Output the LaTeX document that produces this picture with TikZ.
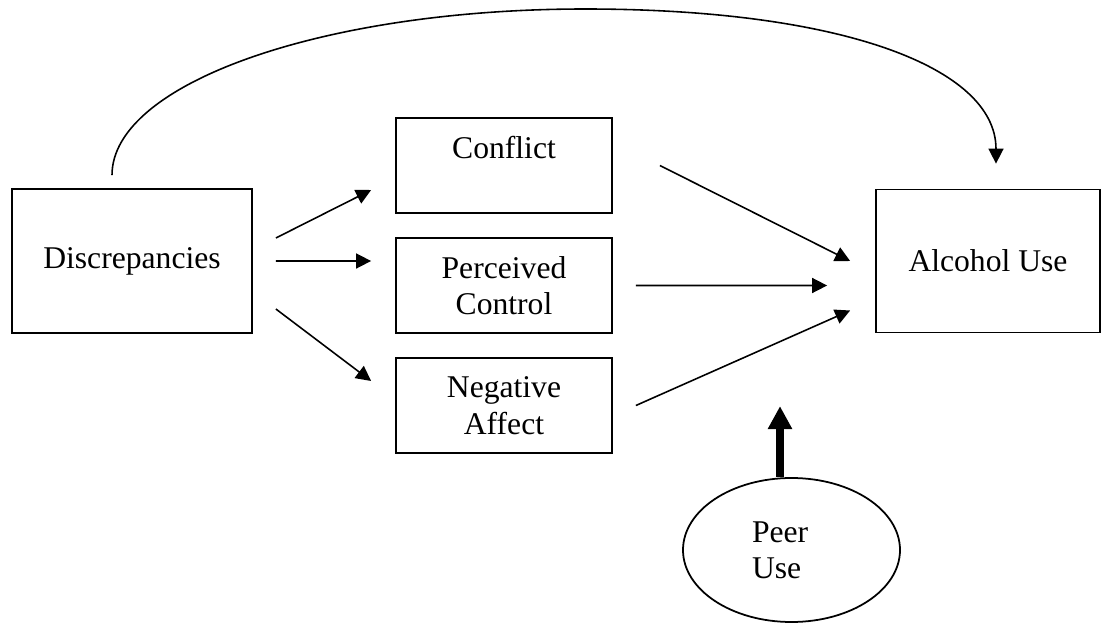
\documentclass[tikz,border=0pt]{standalone}
\usepackage{fontspec}
\setmainfont{Liberation Serif}
\usetikzlibrary{arrows.meta,positioning,shapes.geometric}

\tikzset{
  var/.style={rectangle, draw, line width=1pt, align=center, inner sep=0pt,
    font=\fontsize{18}{20.7}\selectfont},
  med/.style={var, minimum width=4.32cm, minimum height=1.9cm},
}

\begin{document}
\begin{tikzpicture}[->,>={Triangle[length=0.3cm,width=0.3cm]},line width=0.9pt]
		\useasboundingbox (0,0) rectangle (22.22,12.46);

		\node[var, minimum width=4.8cm, minimum height=2.88cm] (D) at (2.64,7.24) {Discrepancies};
		\node[med, text depth=0.73cm] (C) at (10.08,9.15) {Conflict};
		\node[med] (P) [below of=C, node distance=2.4cm] {Perceived\\Control};
		\node[med] (N) [below of=P, node distance=2.4cm] {Negative\\Affect};
		\node[var, minimum width=4.48cm, minimum height=2.86cm] (A) at (19.76,7.24) {Alcohol Use};
		\node[var, ellipse, minimum width=4.34cm, minimum height=2.88cm,
			text width=1.58cm, align=left] (E) at (15.83,1.46) {Peer\\Use};

		\coordinate (top) at (11.70,12.28);

		\draw ([shift={(0.46,0.46)}]D.east) -- ([shift={(-0.48,-0.49)}]C.west);
		\draw ([xshift=0.46cm]D.east) -- ([shift={(-0.48,0.49)}]P.west);
		\draw ([shift={(0.46,-0.96)}]D.east) -- ([shift={(-0.48,0.49)}]N.west);

		\draw ([xshift=0.94cm]C.east) -- ([xshift=-0.5cm]A.west);
		\draw ([xshift=0.46cm]P.east) -- ([shift={(-0.96,-0.49)}]A.west);
		\draw ([xshift=0.46cm]N.east) -- ([shift={(-0.5,-0.99)}]A.west);

		\draw[line width=4.5pt, -{Triangle[length=0.46cm,width=0.46cm]}]
			([xshift=-0.23cm]E.north) -- ([xshift=-0.23cm,yshift=1.42cm]E.north);

		\draw ([shift={(-0.4,0.26)}]D.north) .. controls +(0,1.84) and (6.48,12.28) .. (top)
			.. controls (16.80,12.28) and ([shift={(0.16,2.43)}]A.north) .. ([shift={(0.16,0.5)}]A.north);

\end{tikzpicture}
\end{document}
